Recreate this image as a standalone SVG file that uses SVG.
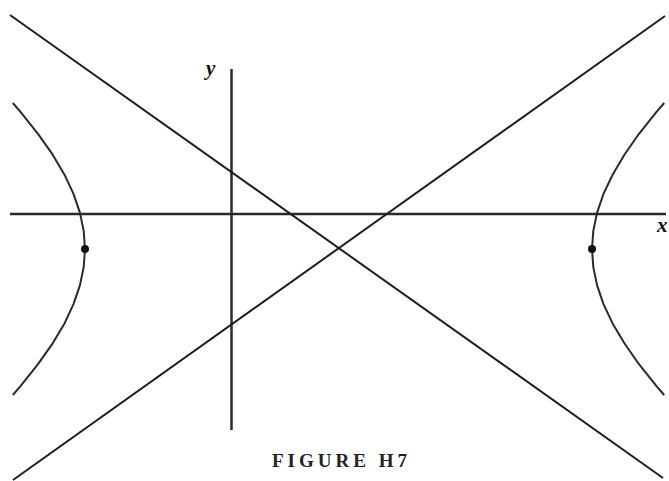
<svg xmlns="http://www.w3.org/2000/svg" width="669" height="481" viewBox="0 0 669 481">
<style>
.ax{stroke:#2a2a2a;stroke-width:2.5;fill:none}
.ln{stroke:#1e1e1e;stroke-width:2;fill:none}
.br{stroke:#2a2a2a;stroke-width:2;fill:none;stroke-linejoin:round}
.lbl{font-family:"Liberation Serif",serif;font-style:italic;font-weight:bold;font-size:21px;fill:#111}
.cap{font-family:"Liberation Serif",serif;font-weight:bold;font-size:19px;fill:#222}
</style>
<rect width="669" height="481" fill="#fff"/>
<g id="connectors">
<line id="x-axis" class="ax" x1="10" y1="214" x2="666" y2="214"/>
<line id="y-axis" class="ax" x1="231.5" y1="69" x2="231.5" y2="430"/>
<line id="asym1" class="ln" x1="10" y1="15" x2="663" y2="478"/>
<line id="asym2" class="ln" x1="13" y1="480" x2="665" y2="16"/>
</g>
<g id="left-branch">
<polyline class="br" points="12.8,103 20.3,111.7 38.0,133.8 52.7,154.7 64.5,174.7 73.5,193.9 79.9,212.6 83.7,230.9 85,249 83.7,267.1 79.9,285.4 73.5,304.1 64.5,323.4 52.7,343.3 38.0,364.2 20.3,386.3 12.8,395"/>
<circle cx="85" cy="249" r="4" fill="#111"/>
</g>
<g id="right-branch">
<polyline class="br" points="664.2,103 656.7,111.7 639.0,133.8 624.4,154.7 612.6,174.7 603.5,193.9 597.1,212.6 593.3,230.9 592,249 593.3,267.1 597.1,285.4 603.5,304.1 612.6,323.4 624.4,343.3 639.0,364.2 656.7,386.3 664.2,395"/>
<circle cx="592" cy="249" r="4" fill="#111"/>
</g>
<g id="labels">
<text class="lbl" x="206" y="75">y</text>
<text class="lbl" x="657" y="232">x</text>
<text class="cap" x="272" y="467" textLength="135" lengthAdjust="spacing">FIGURE H7</text>
</g>
</svg>
